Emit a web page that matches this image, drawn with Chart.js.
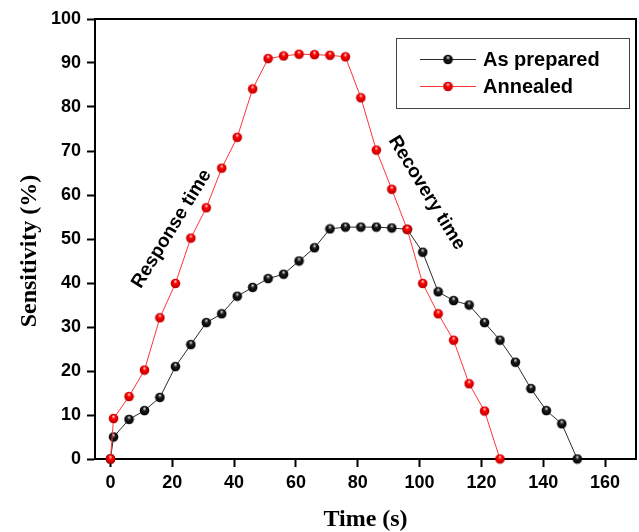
<!DOCTYPE html>
<html>
<head>
<meta charset="utf-8">
<script src="https://cdn.jsdelivr.net/npm/chart.js@4.4.1/dist/chart.umd.min.js"></script>
<style>
  html, body { margin: 0; padding: 0; background: #fff; }
</style>
</head>
<body>
<canvas id="chart" width="639" height="532"></canvas>
<script>
// values
const timeAsPrepared = [0, 1, 6, 11, 16, 21, 26, 31, 36, 41, 46, 51, 56, 61, 66, 71, 76, 81, 86, 91, 96, 101, 106, 111, 116, 121, 126, 131, 136, 141, 146, 151];
const asPrepared = [0, 5, 9, 11, 14, 21, 26, 31, 33, 37, 39, 41, 42, 45, 48, 52.3, 52.7, 52.7, 52.7, 52.5, 52.2, 47, 38, 36, 35, 31, 27, 22, 16, 11, 8, 0];
const timeAnnealed = [0, 1, 6, 11, 16, 21, 26, 31, 36, 41, 46, 51, 56, 61, 66, 71, 76, 81, 86, 91, 96, 101, 106, 111, 116, 121, 126];
const annealed = [0, 9.2, 14.2, 20.2, 32.1, 39.9, 50.2, 57.1, 66.1, 73.1, 84.1, 91, 91.6, 92, 91.9, 91.75, 91.4, 82.1, 70.2, 61.3, 52.2, 39.9, 33, 27, 17.1, 10.9, 0];
const xTicks = [0, 20, 40, 60, 80, 100, 120, 140, 160];
const yTicks = [0, 10, 20, 30, 40, 50, 60, 70, 80, 90, 100];

const tickFont = { family: '"Liberation Sans", Arial, sans-serif', size: 18, weight: 'bold' };

// shaded ball used as point marker
function ball(light, base, dark) {
  const c = document.createElement('canvas');
  c.width = 11; c.height = 11;
  const g = c.getContext('2d');
  const grd = g.createRadialGradient(5.5, 3.2, 0.3, 5.5, 5.5, 5.2);
  grd.addColorStop(0, light);
  grd.addColorStop(0.35, base);
  grd.addColorStop(1, dark);
  g.fillStyle = grd;
  g.beginPath();
  g.arc(5.5, 5.5, 4.8, 0, Math.PI * 2);
  g.fill();
  return c;
}
const blackBall = ball('#d8d8d8', '#1a1a1a', '#000000');
const redBall = ball('#ffd0d0', '#ff0000', '#b30000');

const toPoints = (xs, ys) => xs.map((x, i) => ({ x: x, y: ys[i] }));

const extras = {
  id: 'extras',
  afterDraw(chart) {
    const { ctx, chartArea: a, scales } = chart;
    ctx.save();
    // top and right frame
    ctx.strokeStyle = '#000';
    ctx.lineWidth = 2;
    ctx.beginPath();
    ctx.moveTo(a.left, a.top);
    ctx.lineTo(a.right, a.top);
    ctx.lineTo(a.right, a.bottom);
    ctx.stroke();

    // y title
    ctx.fillStyle = '#000';
    ctx.font = 'bold 24px "Liberation Serif", "Times New Roman", serif';
    ctx.textAlign = 'center';
    ctx.textBaseline = 'middle';
    ctx.save();
    ctx.translate(30, 251);
    ctx.rotate(-Math.PI / 2);
    ctx.fillText('Sensitivity (%)', 0, 0);
    ctx.restore();

    // annotations
    ctx.font = 'bold 19px "Liberation Sans", Arial, sans-serif';
    const notes = [
      { text: 'Response time', x: 19.8, y: 52.3, angle: -58.5 },
      { text: 'Recovery time', x: 102.3, y: 60.5, angle: 58.5 }
    ];
    notes.forEach(n => {
      ctx.save();
      ctx.translate(scales.x.getPixelForValue(n.x), scales.y.getPixelForValue(n.y));
      ctx.rotate(n.angle * Math.PI / 180);
      ctx.fillText(n.text, 0, 0);
      ctx.restore();
    });

    // legend box
    const bx = a.right - 240, by = a.top + 19;
    ctx.strokeStyle = '#444';
    ctx.lineWidth = 1;
    ctx.strokeRect(bx + 0.5, by + 0.5, 233, 70);
    const rows = [
      { ds: chart.data.datasets[1], y: by + 21 },
      { ds: chart.data.datasets[0], y: by + 48 }
    ];
    ctx.font = 'bold 20px "Liberation Sans", Arial, sans-serif';
    ctx.textAlign = 'left';
    rows.forEach(r => {
      ctx.strokeStyle = r.ds.borderColor;
      ctx.beginPath();
      ctx.moveTo(bx + 24, r.y + 0.5);
      ctx.lineTo(bx + 80, r.y + 0.5);
      ctx.stroke();
      ctx.drawImage(r.ds.pointStyle, bx + 52 - 5.5, r.y - 5);
      ctx.fillStyle = '#000';
      ctx.fillText(r.ds.label, bx + 87, r.y + 1);
    });
    ctx.restore();
  }
};

new Chart(document.getElementById('chart'), {
  type: 'line',
  data: {
    datasets: [
      {
        label: 'Annealed',
        data: toPoints(timeAnnealed, annealed),
        borderColor: '#ff3535',
        borderWidth: 1,
        pointStyle: redBall,
        pointRadius: 5,
        order: 0,
        clip: false
      },
      {
        label: 'As prepared',
        data: toPoints(timeAsPrepared, asPrepared),
        borderColor: '#2a2a2a',
        borderWidth: 1,
        pointStyle: blackBall,
        pointRadius: 5,
        order: 1,
        clip: false
      }
    ]
  },
  options: {
    responsive: false,
    devicePixelRatio: 1,
    animation: false,
    events: [],
    layout: { autoPadding: false, padding: { top: 19, right: 3, left: 0, bottom: 0 } },
    plugins: { legend: { display: false }, tooltip: { enabled: false } },
    scales: {
      x: {
        type: 'linear',
        min: -5,
        max: 170,
        afterBuildTicks: s => { s.ticks = xTicks.map(v => ({ value: v })); },
        afterFit: s => { s.height = 73; },
        ticks: { font: tickFont, color: '#000', padding: 5, maxRotation: 0 },
        grid: { drawOnChartArea: false, tickLength: 8, tickWidth: 2, tickColor: '#000' },
        border: { display: true, color: '#000', width: 2 },
        title: {
          display: true,
          text: 'Time (s)',
          color: '#000',
          font: { family: '"Liberation Serif", "Times New Roman", serif', size: 24, weight: 'bold', lineHeight: 1 },
          padding: { top: 0, bottom: 0 }
        }
      },
      y: {
        min: 0,
        max: 100,
        afterBuildTicks: s => { s.ticks = yTicks.map(v => ({ value: v })); },
        afterFit: s => { s.width = 95; },
        ticks: { font: tickFont, color: '#000', padding: 6 },
        grid: { drawOnChartArea: false, tickLength: 8, tickWidth: 2, tickColor: '#000' },
        border: { display: true, color: '#000', width: 2 }
      }
    }
  },
  plugins: [extras]
});
</script>
</body>
</html>
